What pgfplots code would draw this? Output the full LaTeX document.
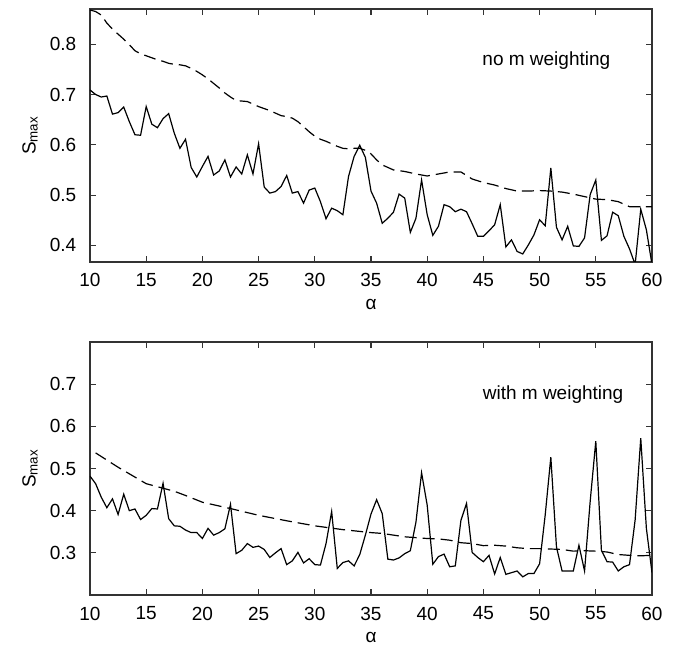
\documentclass[border=0pt]{standalone}
\usepackage{fontspec}
\setmainfont{Liberation Sans}
\usepackage{pgfplots}
\pgfplotsset{compat=1.18}
\begin{document}
\fontsize{9.5}{11}\selectfont
\begin{tikzpicture}
\useasboundingbox (-45pt,-27pt) rectangle (295.5pt,297.5pt);
\pgfplotsset{
 myax/.style={scale only axis, width=281pt, height=126.5pt,
  xmin=10, xmax=60, xtick={10,15,...,60},
  tick align=inside, major tick length=3pt,
  axis line style={black!80, line width=0.6pt},
  every tick/.style={black!80, line width=0.6pt},
  /pgf/number format/assume math mode=true,
  yticklabel style={/pgf/number format/fixed, /pgf/number format/fixed zerofill, /pgf/number format/precision=1, xshift=-3.5pt},
  xticklabel style={yshift=-2.5pt},
  ticklabel style={font=\fontsize{9.5}{11}\selectfont},
  every axis y label/.style={at={(axis description cs:0,0.5)}, xshift=-30pt, rotate=90, anchor=center},
  every axis x label/.style={at={(axis description cs:0.5,0)}, anchor=center, yshift=-21pt},
  xlabel={α}, ylabel={S\textsubscript{max}},
  clip=true},
 solid line/.style={black, line width=0.6pt, no markers},
 dashed line/.style={black, line width=0.6pt, no markers, dash pattern=on 6pt off 3pt}
}
\begin{axis}[myax, at={(0,166.5pt)}, ymin=0.367, ymax=0.87, ytick={0.4,0.5,...,0.8}]
\addplot[solid line] coordinates {
(10,0.709)(10.5,0.700)(11,0.695)(11.5,0.697)(12,0.661)(12.5,0.664)(13,0.675)(13.5,0.646)(14,0.620)(14.5,0.619)
(15,0.676)(15.5,0.641)(16,0.634)(16.5,0.652)(17,0.662)(17.5,0.623)(18,0.593)(18.5,0.611)(19,0.555)(19.5,0.536)
(20,0.557)(20.5,0.577)(21,0.540)(21.5,0.548)(22,0.570)(22.5,0.536)(23,0.556)(23.5,0.542)(24,0.580)(24.5,0.542)
(25,0.602)(25.5,0.516)(26,0.504)(26.5,0.507)(27,0.517)(27.5,0.539)(28,0.504)(28.5,0.507)(29,0.484)(29.5,0.510)
(30,0.514)(30.5,0.487)(31,0.453)(31.5,0.474)(32,0.469)(32.5,0.461)(33,0.537)(33.5,0.577)(34,0.599)(34.5,0.575)
(35,0.508)(35.5,0.484)(36,0.444)(36.5,0.454)(37,0.466)(37.5,0.502)(38,0.494)(38.5,0.426)(39,0.454)(39.5,0.530)
(40,0.461)(40.5,0.420)(41,0.438)(41.5,0.481)(42,0.477)(42.5,0.467)(43,0.472)(43.5,0.467)(44,0.443)(44.5,0.418)
(45,0.418)(45.5,0.429)(46,0.441)(46.5,0.481)(47,0.397)(47.5,0.411)(48,0.388)(48.5,0.383)(49,0.401)(49.5,0.421)
(50,0.451)(50.5,0.439)(51,0.554)(51.5,0.436)(52,0.411)(52.5,0.438)(53,0.399)(53.5,0.398)(54,0.415)(54.5,0.501)
(55,0.530)(55.5,0.410)(56,0.419)(56.5,0.466)(57,0.459)(57.5,0.418)(58,0.393)(58.5,0.362)(59,0.472)(59.5,0.431)
(60,0.362)};
\addplot[dashed line] coordinates {
(10,0.868)(10.5,0.865)(11,0.858)(11.5,0.842)(12,0.830)(12.5,0.820)(13,0.810)(13.5,0.799)(14,0.787)(14.5,0.781)
(15,0.777)(15.5,0.773)(16,0.769)(16.5,0.766)(17,0.762)(17.5,0.760)(18,0.759)(18.5,0.757)(19,0.752)(19.5,0.746)
(20,0.739)(20.5,0.731)(21,0.722)(21.5,0.713)(22,0.703)(22.5,0.695)(23,0.688)(23.5,0.687)(24,0.686)(24.5,0.681)
(25,0.676)(25.5,0.672)(26,0.668)(26.5,0.663)(27,0.658)(27.5,0.656)(28,0.653)(28.5,0.646)(29,0.636)(29.5,0.626)
(30,0.617)(30.5,0.611)(31,0.607)(31.5,0.602)(32,0.597)(32.5,0.593)(33,0.592)(33.5,0.593)(34,0.593)(34.5,0.589)
(35,0.582)(35.5,0.570)(36,0.560)(37,0.550)(38,0.547)(39,0.542)(40,0.538)(41,0.542)(42,0.546)(43,0.546)
(44,0.532)(45,0.525)(46,0.520)(47,0.513)(48,0.508)(49,0.508)(50,0.509)(51,0.508)(52,0.506)(53,0.502)
(54,0.497)(55,0.492)(56,0.491)(57,0.487)(58,0.477)(59,0.477)(60,0.477)};
\node at (axis cs:50.6,0.767) {no m weighting};
\end{axis}
\begin{axis}[myax, at={(0,0)}, ymin=0.2, ymax=0.8, ytick={0.3,0.4,...,0.7}]
\addplot[solid line] coordinates {
(10,0.482)(10.5,0.464)(11,0.432)(11.5,0.407)(12,0.428)(12.5,0.391)(13,0.439)(13.5,0.400)(14,0.404)(14.5,0.379)
(15,0.389)(15.5,0.405)(16,0.404)(16.5,0.465)(17,0.381)(17.5,0.364)(18,0.363)(18.5,0.354)(19,0.348)(19.5,0.348)
(20,0.334)(20.5,0.358)(21,0.342)(21.5,0.348)(22,0.357)(22.5,0.415)(23,0.298)(23.5,0.306)(24,0.322)(24.5,0.313)
(25,0.316)(25.5,0.308)(26,0.289)(26.5,0.300)(27,0.310)(27.5,0.272)(28,0.281)(28.5,0.301)(29,0.276)(29.5,0.286)
(30,0.272)(30.5,0.271)(31,0.322)(31.5,0.398)(32,0.263)(32.5,0.277)(33,0.281)(33.5,0.269)(34,0.296)(34.5,0.342)
(35,0.392)(35.5,0.426)(36,0.393)(36.5,0.285)(37,0.283)(37.5,0.288)(38,0.298)(38.5,0.305)(39,0.373)(39.5,0.490)
(40,0.413)(40.5,0.273)(41,0.291)(41.5,0.297)(42,0.267)(42.5,0.269)(43,0.377)(43.5,0.417)(44,0.301)(44.5,0.289)
(45,0.279)(45.5,0.294)(46,0.250)(46.5,0.289)(47,0.249)(47.5,0.253)(48,0.257)(48.5,0.243)(49,0.251)(49.5,0.251)
(50,0.274)(50.5,0.390)(51,0.527)(51.5,0.314)(52,0.257)(52.5,0.257)(53,0.257)(53.5,0.318)(54,0.257)(54.5,0.422)
(55,0.565)(55.5,0.306)(56,0.279)(56.5,0.278)(57,0.257)(57.5,0.267)(58,0.272)(58.5,0.378)(59,0.572)(59.5,0.358)
(60,0.253)};
\addplot[dashed line] coordinates {
(10.5,0.537)(12.5,0.503)(15,0.464)(17.5,0.446)(18.5,0.436)(20,0.420)(22.5,0.405)(25,0.389)(27.5,0.376)(30,0.364)
(32.5,0.355)(35,0.348)(36,0.346)(38,0.338)(40,0.334)(41,0.333)(42,0.330)(43,0.324)(44,0.322)(45,0.317)
(46,0.318)(47,0.316)(48,0.312)(49,0.310)(50,0.310)(51,0.309)(52,0.308)(53,0.304)(54,0.305)(55,0.304)
(56,0.302)(57,0.296)(58,0.294)(59,0.293)(60,0.294)};
\node at (axis cs:51.2,0.675) {with m weighting};
\end{axis}
\end{tikzpicture}
\end{document}
